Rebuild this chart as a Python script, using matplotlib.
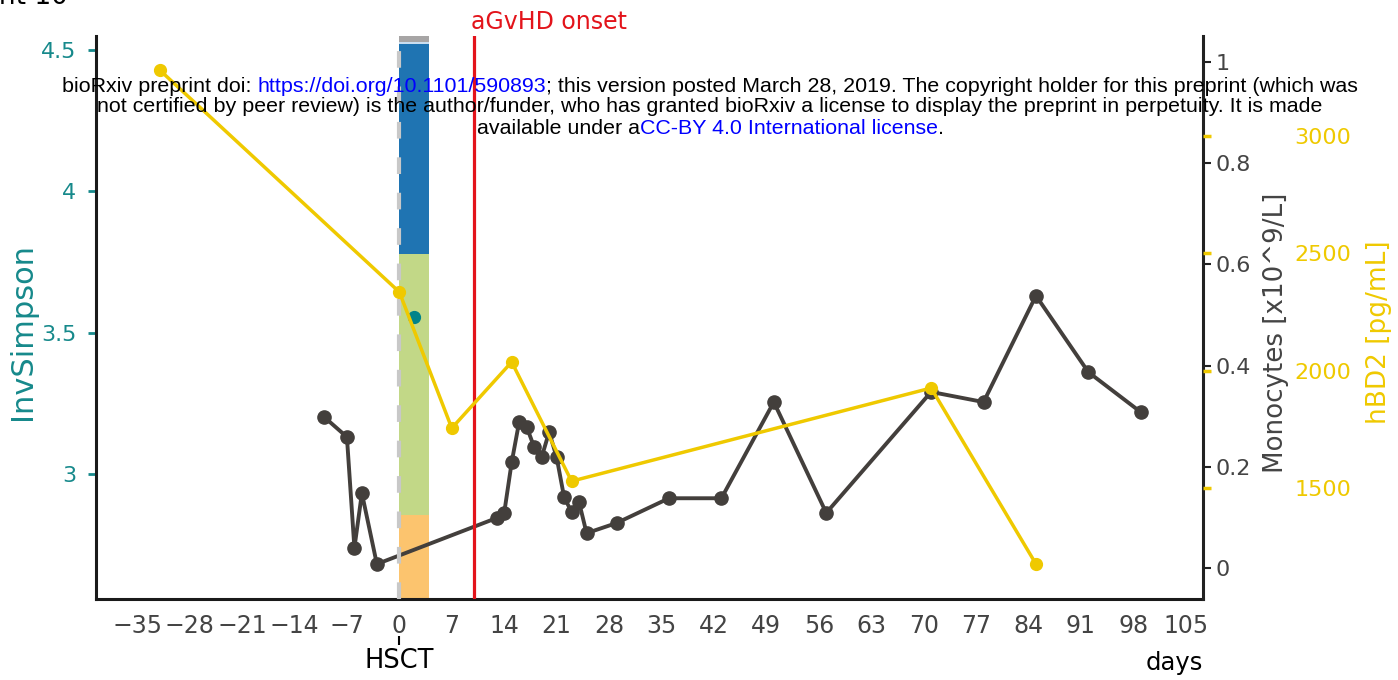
import matplotlib
matplotlib.use('Agg')
import matplotlib.pyplot as plt

# ---------------- data ----------------
xtick_days = [-35, -28, -21, -14, -7, 0, 7, 14, 21, 28, 35, 42, 49, 56, 63, 70, 77, 84, 91, 98, 105]

mono_days = [-10, -7, -6, -5, -3, 13, 14, 15, 16, 17, 18, 19, 20, 21, 22, 23, 24, 25,
             29, 36, 43, 50, 57, 71, 78, 85, 92, 99]
monocytes = [0.298, 0.259, 0.040, 0.148, 0.008, 0.099, 0.109, 0.209, 0.289, 0.279, 0.239,
             0.219, 0.269, 0.219, 0.140, 0.111, 0.130, 0.069, 0.089, 0.138, 0.138, 0.328,
             0.109, 0.348, 0.328, 0.538, 0.387, 0.308]

hbd2_days = [-32, 0, 7, 15, 23, 71, 85]
hbd2_vals = [3281, 2335, 1755, 2037, 1529, 1926, 1176]

invsimpson_days = [2]
invsimpson_vals = [3.557]

bar_day = 0
bar_width_days = 4
bar_fractions = [0.149, 0.464, 0.373, 0.003, 0.011]
bar_colors = ['#fcc46e', '#c2d887', '#1f74b2', '#c9def0', '#a7a5a5']

hsct_day = 0
agvhd_day = 10

inv_ticks = [3, 3.5, 4, 4.5]
inv_labels = ['3', '3.5', '4', '4.5']
mono_ticks = [0, 0.2, 0.4, 0.6, 0.8, 1]
mono_labels = ['0', '0.2', '0.4', '0.6', '0.8', '1']
hbd2_ticks = [1500, 2000, 2500, 3000]

# ---------------- style ----------------
TEAL = '#16898b'
GRAY = '#433f3c'
YEL = '#efc900'
RED = '#e3141b'
FONT = 'DejaVu Sans'

W_PX, H_PX = 1398, 680
fig = plt.figure(figsize=(W_PX / 100, H_PX / 100), dpi=100)
left, right, bottom, top = 96, 1203, 599, 36
ax = fig.add_axes([left / W_PX, 1 - bottom / H_PX, (right - left) / W_PX, (bottom - top) / H_PX])
ax2 = ax.twinx()
ax3 = ax.twinx()

ax.set_xlim(-40.5, 107.3)
ax.set_ylim(2.558, 4.55)
ax2.set_ylim(-0.061, 1.051)
ax3.set_ylim(1027, 3426)

# stacked bar (fractions of full height)
xt = ax.get_xaxis_transform()
b = 0
for frac, col in zip(bar_fractions, bar_colors):
    ax.bar(bar_day, frac, width=bar_width_days, bottom=b, align='edge', color=col,
           transform=xt, zorder=1, linewidth=0)
    b += frac

ax.plot(invsimpson_days, invsimpson_vals, 'o', color='#00838a', ms=8.5, zorder=3)

ax2.plot(mono_days, monocytes, '-o', color=GRAY, lw=2.8, ms=9.5, zorder=2)

ax3.axvline(hsct_day, color='#c8c8c8', lw=3, dashes=(4, 4.5), zorder=1)
ax3.axvline(agvhd_day, color=RED, lw=2.3, zorder=1.5)
ax3.plot(hbd2_days, hbd2_vals, '-o', color=YEL, lw=2.5, ms=8.5, zorder=3)

ax3.text(agvhd_day - 0.4, 1.0125, 'aGvHD onset', color=RED, fontsize=17,
         transform=ax3.get_xaxis_transform(), ha='left', va='baseline')

# ----- spines -----
for a in (ax, ax2, ax3):
    a.spines['top'].set_visible(False)
ax.spines['right'].set_visible(False)
ax.spines['left'].set_linewidth(2.2)
ax.spines['left'].set_color('#1a1a1a')
ax.spines['bottom'].set_linewidth(2.2)
ax.spines['bottom'].set_color('#1a1a1a')
ax2.spines['left'].set_visible(False)
ax2.spines['bottom'].set_visible(False)
ax2.spines['right'].set_linewidth(2.2)
ax2.spines['right'].set_color('#222222')
for s in ax3.spines.values():
    s.set_visible(False)

# ----- x axis -----
ax.set_xticks(xtick_days)
ax.set_xticklabels([str(d).replace('-', '\u2212') for d in xtick_days])
ax.tick_params(axis='x', length=0, pad=11, labelsize=17, labelcolor='#444444')
ax.set_xlabel('days', fontsize=17.5, color='black', ha='right', va='center')
ax.xaxis.set_label_coords(1.0, -0.114)

sec = ax.secondary_xaxis(-37 / 563)
sec.set_xticks([hsct_day])
sec.set_xticklabels(['HSCT'])
sec.spines['bottom'].set_visible(False)
sec.tick_params(axis='x', length=6.5, width=1.5, color='black', pad=2,
                labelsize=18.5, labelcolor='black')

# ----- left y -----
ax.set_yticks(inv_ticks)
ax.set_yticklabels(inv_labels)
ax.tick_params(axis='y', length=6, width=2, color=TEAL, labelcolor=TEAL, labelsize=16, pad=8)
ax.set_ylabel('InvSimpson', color=TEAL, fontsize=22)
ax.yaxis.label.set_verticalalignment('center')
ax.yaxis.set_label_coords(-0.0668, 0.475)

# ----- monocytes axis -----
ax2.set_yticks(mono_ticks)
ax2.set_yticklabels(mono_labels)
ax2.tick_params(axis='y', length=6, width=1.5, color='#222222', labelcolor='#444444', labelsize=16, pad=3)
ax2.yaxis.set_label_position('right')
ax2.set_ylabel('Monocytes [x10^9/L]', color='#444444', fontsize=18.8)
ax2.yaxis.label.set_verticalalignment('center')
ax2.yaxis.set_label_coords(1.066, 0.472)

# ----- hBD2 axis -----
ax3.yaxis.set_ticks_position('right')
ax3.set_yticks(hbd2_ticks)
ax3.set_yticklabels([str(t) for t in hbd2_ticks])
ax3.tick_params(axis='y', length=6, width=2.5, color=YEL, labelcolor=YEL, labelsize=16, pad=60)
ax3.yaxis.set_label_position('right')
ax3.set_ylabel('hBD2 [pg/mL]', color=YEL, fontsize=19)
ax3.yaxis.label.set_verticalalignment('center')
ax3.yaxis.set_label_coords(1.159, 0.474)

# ----- title (clipped at top) -----
fig.text(68 / W_PX, 1 - 4 / H_PX, 'Patient 10', ha='right', va='baseline', fontsize=19, color='black')

# ----- bioRxiv watermark -----
renderer = fig.canvas.get_renderer()
WM_FONT = ['Liberation Sans', 'DejaVu Sans']
BLUE = '#0000ff'
lines = [
    (86, [('bioRxiv preprint doi: ', 'black'), ('https://doi.org/10.1101/590893', BLUE),
          ('; this version posted March 28, 2019. The copyright holder for this preprint (which was', 'black')]),
    (107, [('not certified by peer review) is the author/funder, who has granted bioRxiv a license to display the preprint in perpetuity. It is made', 'black')]),
    (128, [('available under a', 'black'), ('CC-BY 4.0 International license', BLUE), ('.', 'black')]),
]


def text_width(s, fs):
    t = fig.text(0, 0, s, fontsize=fs, family=WM_FONT)
    w = t.get_window_extent(renderer).width
    t.remove()
    return w


fs0 = 13
w_line1 = text_width(''.join(p for p, _ in lines[0][1]), fs0)
fs = fs0 * 1294 / w_line1
cx = 710
wl = text_width('l', fs)
for ypx, pieces in lines:
    full = ''.join(p for p, _ in pieces)
    total = text_width(full, fs)
    x0 = cx - total / 2
    prefix = ''
    for s, c in pieces:
        off = 0 if prefix == '' else text_width(prefix + 'l', fs) - wl
        fig.text((x0 + off) / W_PX, 1 - ypx / H_PX, s, fontsize=fs, family=WM_FONT, color=c,
                 ha='left', va='center', zorder=20)
        prefix += s

fig.savefig('out.png', dpi=100)
